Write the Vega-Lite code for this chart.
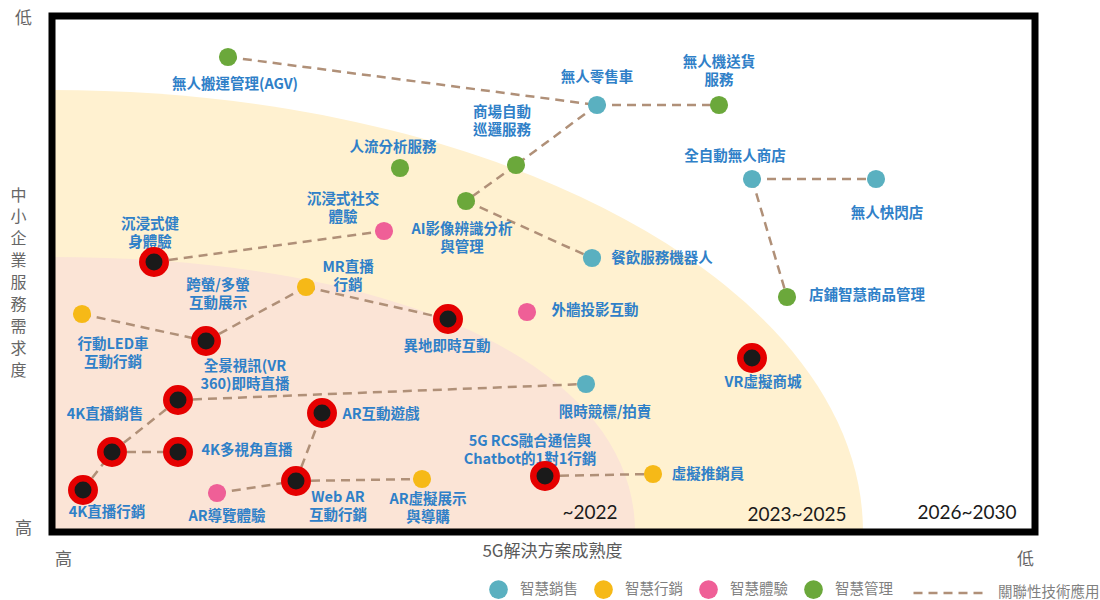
{
  "$schema": "https://vega.github.io/schema/vega-lite/v6.json",
  "width": 983,
  "height": 516,
  "autosize": {"type": "none"},
  "padding": {"left": 52, "top": 16, "right": 65, "bottom": 68},
  "background": "white",
  "config": {"view": {"stroke": null}, "font": "Noto Sans CJK TC"},
  "datasets": {
    "points": [
      {"id": 1, "label": "無人搬運管理(AGV)", "cat": "智慧管理", "x": 176, "y": 475, "lx": 183, "ly": 447},
      {"id": 2, "label": "人流分析服務", "cat": "智慧管理", "x": 348, "y": 364, "lx": 341, "ly": 384},
      {"id": 3, "label": "商場自動\n巡邏服務", "cat": "智慧管理", "x": 464, "y": 367, "lx": 450, "ly": 419},
      {"id": 4, "label": "AI影像辨識分析\n與管理", "cat": "智慧管理", "x": 414, "y": 331, "lx": 410, "ly": 302},
      {"id": 5, "label": "無人機送貨\n服務", "cat": "智慧管理", "x": 667, "y": 427, "lx": 667, "ly": 469},
      {"id": 6, "label": "店鋪智慧商品管理", "cat": "智慧管理", "x": 735, "y": 235, "lx": 815, "ly": 236},
      {"id": 7, "label": "無人零售車", "cat": "智慧銷售", "x": 545, "y": 427, "lx": 545, "ly": 454},
      {"id": 8, "label": "全自動無人商店", "cat": "智慧銷售", "x": 700, "y": 353, "lx": 683, "ly": 375},
      {"id": 9, "label": "無人快閃店", "cat": "智慧銷售", "x": 824, "y": 353, "lx": 835, "ly": 318},
      {"id": 10, "label": "餐飲服務機器人", "cat": "智慧銷售", "x": 540, "y": 274, "lx": 610, "ly": 273},
      {"id": 11, "label": "限時競標/拍賣", "cat": "智慧銷售", "x": 534, "y": 148, "lx": 553, "ly": 119},
      {"id": 12, "label": "沉浸式社交\n體驗", "cat": "智慧體驗", "x": 332, "y": 301, "lx": 291, "ly": 332},
      {"id": 13, "label": "外牆投影互動", "cat": "智慧體驗", "x": 475, "y": 220, "lx": 543, "ly": 221},
      {"id": 14, "label": "AR導覽體驗", "cat": "智慧體驗", "x": 165, "y": 39, "lx": 175, "ly": 15},
      {"id": 15, "label": "行動LED車\n互動行銷", "cat": "智慧行銷", "x": 30, "y": 218, "lx": 61, "ly": 187},
      {"id": 16, "label": "MR直播\n行銷", "cat": "智慧行銷", "x": 254, "y": 245, "lx": 296, "ly": 264},
      {"id": 17, "label": "AR虛擬展示\n與導購", "cat": "智慧行銷", "x": 370, "y": 53, "lx": 376, "ly": 32},
      {"id": 18, "label": "虛擬推銷員", "cat": "智慧行銷", "x": 601, "y": 58, "lx": 656, "ly": 57},
      {"id": 19, "label": "沉浸式健\n身體驗", "cat": "重點", "x": 102, "y": 270, "lx": 98, "ly": 307},
      {"id": 20, "label": "跨螢/多螢\n互動展示", "cat": "重點", "x": 154, "y": 191, "lx": 166, "ly": 246},
      {"id": 21, "label": "全景視訊(VR\n360)即時直播", "cat": "重點", "x": 126, "y": 132, "lx": 193, "ly": 165},
      {"id": 22, "label": "4K直播銷售", "cat": "重點", "x": 60, "y": 80, "lx": 53, "ly": 117},
      {"id": 23, "label": "4K多視角直播", "cat": "重點", "x": 126, "y": 80, "lx": 195, "ly": 81},
      {"id": 24, "label": "4K直播行銷", "cat": "重點", "x": 31, "y": 42, "lx": 55, "ly": 19},
      {"id": 25, "label": "異地即時互動", "cat": "重點", "x": 396, "y": 213, "lx": 395, "ly": 185},
      {"id": 26, "label": "AR互動遊戲", "cat": "重點", "x": 270, "y": 119, "lx": 329, "ly": 117},
      {"id": 27, "label": "Web AR\n互動行銷", "cat": "重點", "x": 244, "y": 51, "lx": 286, "ly": 34},
      {"id": 28, "label": "5G RCS融合通信與\nChatbot的1對1行銷", "cat": "重點", "x": 493, "y": 56, "lx": 478, "ly": 90},
      {"id": 29, "label": "VR虛擬商城", "cat": "重點", "x": 700, "y": 174, "lx": 711, "ly": 149}
    ],
    "links": [
      {"from": 1, "to": 7}, {"from": 7, "to": 5}, {"from": 7, "to": 3}, {"from": 3, "to": 4},
      {"from": 4, "to": 10}, {"from": 19, "to": 12}, {"from": 15, "to": 20}, {"from": 20, "to": 16},
      {"from": 16, "to": 25}, {"from": 21, "to": 11}, {"from": 22, "to": 21}, {"from": 22, "to": 23},
      {"from": 24, "to": 22}, {"from": 14, "to": 27}, {"from": 27, "to": 26}, {"from": 27, "to": 17},
      {"from": 28, "to": 18}, {"from": 8, "to": 9}, {"from": 8, "to": 6}
    ],
    "periods": [
      {"period": "~2022", "x": 538, "y": 19},
      {"period": "2023~2025", "x": 745, "y": 17},
      {"period": "2026~2030", "x": 915, "y": 19}
    ]
  },
  "layer": [
    {
      "data": {"values": [{"period": "2023~2025", "x": 0, "y": 0}]},
      "mark": {"type": "point", "shape": "M0,0L1,0A1,0.545,0,0,0,0,-0.545Z", "size": 2630884, "filled": true, "fill": "#FFF1D0", "strokeWidth": 0, "opacity": 1},
      "encoding": {
        "x": {"field": "x", "type": "quantitative", "scale": {"domain": [0, 983], "nice": false, "zero": false},
          "axis": {"values": [11, 973], "labelExpr": "datum.value < 500 ? '高' : '低'", "ticks": false, "tickSize": 0, "domain": false, "grid": false,
            "labelPadding": 27, "labelBaseline": "middle", "labelAlign": "center", "labelFlush": false, "labelOverlap": false, "labelBound": false,
            "labelFontSize": 17, "labelColor": "#666666", "labelFont": "Noto Sans CJK TC",
            "title": "5G解決方案成熟度", "titleFontSize": 17, "titleFontWeight": "normal", "titleColor": "#595959", "titleFont": "Noto Sans CJK TC",
            "titleX": 500, "titleY": 19, "titleAlign": "center", "titleBaseline": "middle"}},
        "y": {"field": "y", "type": "quantitative", "scale": {"domain": [0, 516], "nice": false, "zero": false},
          "axis": {"values": [4, 514], "labelExpr": "datum.value > 200 ? '低' : '高'", "ticks": false, "tickSize": 0, "domain": false, "grid": false,
            "labelPadding": 29, "labelBaseline": "middle", "labelAlign": "center", "labelFlush": false, "labelOverlap": false, "labelBound": false,
            "labelFontSize": 17, "labelColor": "#666666", "labelFont": "Noto Sans CJK TC",
            "title": ["中", "小", "企", "業", "服", "務", "需", "求", "度"], "titleAngle": 0, "titleFontSize": 16, "titleFontWeight": "normal",
            "titleColor": "#666666", "titleFont": "Noto Sans CJK TC", "titleLineHeight": 21.9,
            "titleX": -34, "titleY": 179, "titleAlign": "center", "titleBaseline": "middle"}}
      }
    },
    {
      "data": {"values": [{"period": "~2022", "x": 0, "y": 0}]},
      "mark": {"type": "point", "shape": "M0,0L1,0C1,-0.283,0.6,-0.4717,0,-0.4717Z", "size": 1359556, "filled": true, "fill": "#FBE4D6", "strokeWidth": 0, "opacity": 1},
      "encoding": {
        "x": {"field": "x", "type": "quantitative"},
        "y": {"field": "y", "type": "quantitative"}
      }
    },
    {
      "data": {"name": "links"},
      "transform": [
        {"lookup": "from", "from": {"data": {"name": "points"}, "key": "id", "fields": ["x", "y"]}, "as": ["xa", "ya"]},
        {"lookup": "to", "from": {"data": {"name": "points"}, "key": "id", "fields": ["x", "y"]}, "as": ["xb", "yb"]}
      ],
      "mark": {"type": "rule", "stroke": "#B09078", "strokeWidth": 2.5},
      "encoding": {
        "x": {"field": "xa", "type": "quantitative"},
        "y": {"field": "ya", "type": "quantitative"},
        "x2": {"field": "xb"},
        "y2": {"field": "yb"},
        "strokeDash": {"datum": "關聯性技術應用", "type": "nominal", "scale": {"range": [[9, 6]]},
          "legend": {"orient": "none", "legendX": 860, "legendY": 540, "title": null, "padding": 0, "symbolType": "stroke", "symbolSize": 5041,
            "symbolStrokeWidth": 2.5, "symbolStrokeColor": "#B09078", "labelFontSize": 14.5, "labelColor": "#7F7F7F", "labelFont": "Noto Sans CJK TC", "labelOffset": 12}}
      }
    },
    {
      "data": {"name": "points"},
      "mark": {"type": "text", "font": "Noto Sans CJK TC", "fontSize": 14.5, "fontWeight": "bold", "fill": "#2F80C8", "lineBreak": "\n", "lineHeight": 18, "align": "center", "baseline": "middle"},
      "encoding": {
        "x": {"field": "lx", "type": "quantitative"},
        "y": {"field": "ly", "type": "quantitative"},
        "text": {"field": "label", "type": "nominal"}
      }
    },
    {
      "data": {"name": "points"},
      "transform": [{"filter": "datum.cat !== '重點'"}],
      "mark": {"type": "point", "filled": true, "size": 330, "opacity": 1, "strokeWidth": 0},
      "encoding": {
        "x": {"field": "x", "type": "quantitative"},
        "y": {"field": "y", "type": "quantitative"},
        "color": {"field": "cat", "type": "nominal",
          "scale": {"domain": ["智慧銷售", "智慧行銷", "智慧體驗", "智慧管理"], "range": ["#5AB0C0", "#F6B917", "#EF5F97", "#6BA83B"]},
          "legend": {"orient": "none", "legendX": 437, "legendY": 564, "direction": "horizontal", "title": null, "padding": 0,
            "symbolType": "circle", "symbolSize": 350, "symbolStrokeWidth": 0, "symbolOpacity": 1,
            "labelFontSize": 14.5, "labelColor": "#7F7F7F", "labelFont": "Noto Sans CJK TC", "labelOffset": 12, "columnPadding": 16}}
      }
    },
    {
      "data": {"name": "points"},
      "transform": [{"filter": "datum.cat === '重點'"}],
      "mark": {"type": "point", "filled": true, "fill": "#1A1A1A", "stroke": "#E50000", "strokeWidth": 6.5, "size": 551, "opacity": 1},
      "encoding": {
        "x": {"field": "x", "type": "quantitative"},
        "y": {"field": "y", "type": "quantitative"}
      }
    },
    {
      "data": {"name": "periods"},
      "mark": {"type": "text", "font": "Lato", "fontSize": 19, "fill": "#1A1A1A", "align": "center", "baseline": "middle"},
      "encoding": {
        "x": {"field": "x", "type": "quantitative"},
        "y": {"field": "y", "type": "quantitative"},
        "text": {"field": "period", "type": "nominal"}
      }
    },
    {
      "data": {"values": [{}]},
      "mark": {"type": "rect", "fillOpacity": 0, "stroke": "#000000", "strokeWidth": 7},
      "encoding": {}
    }
  ]
}
